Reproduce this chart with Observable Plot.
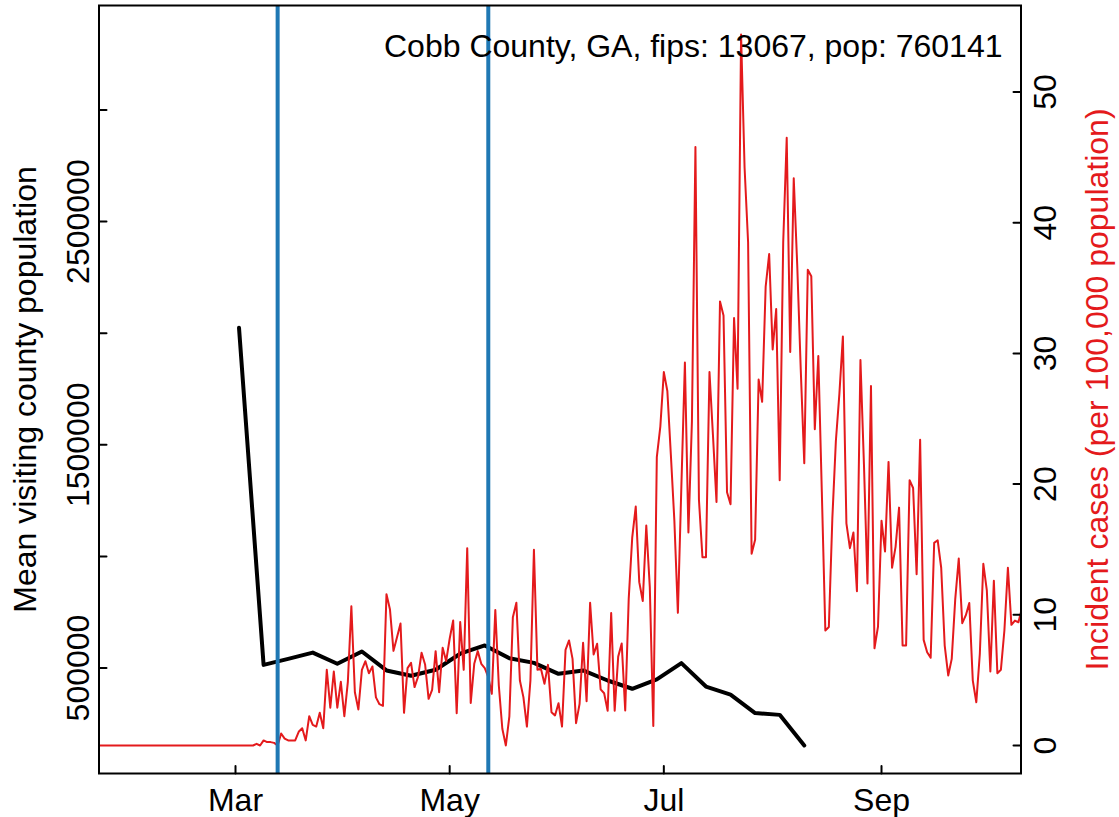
<!DOCTYPE html>
<html>
<head>
<meta charset="utf-8">
<script src="https://cdn.jsdelivr.net/npm/d3@7"></script>
<script src="https://cdn.jsdelivr.net/npm/@observablehq/plot@0.6"></script>
<style>
html,body{margin:0;padding:0;background:#fff;}
svg{display:block;}
</style>
</head>
<body>
<div id="chart"></div>
<script>
// ---------------- data ----------------
const titleText = "Cobb County, GA, fips: 13067, pop: 760141";
const leftTitle = "Mean visiting county population";
const rightTitle = "Incident cases (per 100,000 population)";

// daily incident cases per 100,000 starting at caseStartDate
const caseStartDate = "2020-01-22";
const incidentCases = [
  0,0,0,0,0,0,0,0,0,0, 0,0,0,0,0,0,0,0,0,0,
  0,0,0,0,0,0,0,0,0,0, 0,0,0,0,0,0,0,0,0,0,
  0,0,0,0,0,
  0.13,0,0.39,0.26,0.26,0.2,0,
  0.92,0.53,0.39,0.39,0.39,1.05,1.32,0.39,
  2.24,1.58,1.45,2.5,1.32,5.79,2.89,5.66,2.89,4.87,
  2.24,4.87,10.66,4.08,2.76,5.79,6.45,5.53,6.05,3.68,
  3.16,3.03,11.58,10.4,7.24,8.29,9.34,2.5,5.92,6.32,
  4.47,5.26,7.1,6.2,3.57,4.26,7.22,4.08,7.48,6.46,
  8.17,9.57,2.47,9.44,5.79,15.1,3.26,6.25,7.22,6.25,
  5.92,5.23,3.95,10.37,4.59,1.28,0,2.22,9.82,10.92,
  4.97,3.7,1.45,4.97,14.97,5.79,5.87,4.72,6.17,2.55,
  2.3,3.24,1.45,7.32,8.04,6.63,1.71,3.19,7.86,3.39,
  10.92,6.96,7.78,4.3,4.0,2.66,10.13,2.66,6.8,7.8,
  2.68,11.24,15.93,18.28,12.5,11.06,16.83,12.14,1.49,22.07,
  24.4,28.57,27.12,22.25,17.2,10.15,19.9,29.3,16.3,24.8,
  45.8,18.8,14.4,14.4,28.57,23.7,18.64,33.98,32.9,19.37,
  18.46,32.7,27.3,54.4,44.2,38.5,14.67,15.75,28.0,26.3,
  35.1,37.6,30.3,33.4,20.3,38.5,46.5,30.1,43.4,36.7,
  28.75,21.6,36.4,35.9,24.2,29.8,19.4,8.8,9.07,17.4,
  23.3,26.9,31.3,17.0,15.1,16.3,11.8,29.5,21.5,12.4,
  27.5,7.44,9.1,17.2,14.85,21.7,13.6,15.2,18.2,7.65,
  7.65,20.3,19.7,13.1,23.4,8.08,7.14,6.71,15.5,15.7,
  13.6,7.65,5.36,6.63,11.2,14.3,9.36,9.95,10.9,4.97,
  3.31,7.0,13.9,11.86,5.66,12.6,5.53,5.79,8.8,13.6,
  9.23,9.56,9.43,10.5
];

// weekly mean visiting county population starting at mobilityStartDate
const mobilityStartDate = "2020-03-02";
const meanVisitingPop = [
  2024000, 514000, 541000, 569000, 519000, 574000, 489000, 465000,
  492000, 564000, 601000, 544000, 523000, 474000, 489000, 444000,
  407000, 449000, 522000, 417000, 381000, 298000, 290000, 153000
];

const interventionDates = ["2020-03-13", "2020-05-12"];
const monthTicks = ["2020-03-01", "2020-05-01", "2020-07-01", "2020-09-01"];
const monthLabels = ["Mar", "May", "Jul", "Sep"];
const leftTicks = [500000, 1000000, 1500000, 2000000, 2500000, 3000000];
const leftLabels = [500000, 1500000, 2500000];
const rightTicks = [0, 10, 20, 30, 40, 50];

// ---------------- build ----------------
const DAY = 86400000;
const parse = s => new Date(s + "T00:00:00Z");
const mar1 = Date.UTC(2020, 2, 1);
const xDomain = [new Date(mar1 - 38.88 * DAY), new Date(mar1 + 223.73 * DAY)];
const leftDomain = [27330, 3468190];
const rightDomain = [-2.142, 56.618];
const toLeft = r => leftDomain[0] + (r - rightDomain[0]) * (leftDomain[1] - leftDomain[0]) / (rightDomain[1] - rightDomain[0]);

const caseStart = parse(caseStartDate).getTime();
const cases = incidentCases.map((v, i) => ({date: new Date(caseStart + i * DAY), value: v}));
const mobStart = parse(mobilityStartDate).getTime();
const mobility = meanVisitingPop.map((v, i) => ({date: new Date(mobStart + i * 7 * DAY), value: v}));
const months = monthTicks.map((t, i) => ({date: parse(t), label: monthLabels[i]}));

const RED = "#E41A1C";
const BLUE = "#1F78B4";
const FS = 32;
const tickShape = {draw(context, l) { context.moveTo(0, 0); context.lineTo(0, -l); }};

const chart = Plot.plot({
  width: 1119,
  height: 817,
  marginLeft: 98.5,
  marginRight: 98.5,
  marginTop: 5,
  marginBottom: 44,
  style: {fontFamily: "'Liberation Sans', Arial, Helvetica, sans-serif", fontSize: FS + "px", background: "white"},
  x: {type: "utc", domain: xDomain, axis: null},
  y: {domain: leftDomain, axis: null},
  marks: [
    Plot.line(mobility, {x: "date", y: "value", stroke: "black", strokeWidth: 4, clip: true}),
    Plot.line(cases, {x: "date", y: d => toLeft(d.value), stroke: RED, strokeWidth: 2, clip: true}),
    Plot.ruleX(interventionDates.map(parse), {x: d => d, stroke: BLUE, strokeWidth: 4}),
    // ticks (inward)
    Plot.vector(months, {x: "date", frameAnchor: "bottom", length: 7.5, rotate: 0, anchor: "start", shape: tickShape, stroke: "black", strokeWidth: 2}),
    Plot.vector(leftTicks, {y: d => d, frameAnchor: "left", length: 7.5, rotate: 90, anchor: "start", shape: tickShape, stroke: "black", strokeWidth: 2}),
    Plot.vector(rightTicks, {y: d => toLeft(d), frameAnchor: "right", length: 7.5, rotate: -90, anchor: "start", shape: tickShape, stroke: "black", strokeWidth: 2}),
    // tick labels
    Plot.text(months, {x: "date", text: "label", frameAnchor: "bottom", dy: 37, lineAnchor: "bottom", fontSize: FS, fill: "black"}),
    Plot.text(leftLabels, {y: d => d, text: d => String(d), frameAnchor: "left", dx: -10.5, rotate: -90, lineAnchor: "bottom", textAnchor: "middle", fontSize: FS, fill: "black"}),
    Plot.text(rightTicks, {y: d => toLeft(d), text: d => String(d), frameAnchor: "right", dx: 12, rotate: -90, lineAnchor: "top", textAnchor: "middle", fontSize: FS, fill: "black"}),
    // axis titles
    Plot.text([leftTitle], {text: d => d, frameAnchor: "left", dx: -63.5, rotate: -90, lineAnchor: "bottom", textAnchor: "middle", fontSize: FS, fill: "black"}),
    Plot.text([rightTitle], {text: d => d, frameAnchor: "right", dx: 64, rotate: -90, lineAnchor: "top", textAnchor: "middle", fontSize: FS, fill: RED}),
    // in-plot title
    Plot.text([titleText], {text: d => d, frameAnchor: "top-right", dx: -18.5, dy: 51, lineAnchor: "bottom", textAnchor: "end", fontSize: FS, fill: "black"}),
    Plot.frame({stroke: "black", strokeWidth: 2})
  ]
});
document.getElementById("chart").appendChild(chart);
</script>
</body>
</html>
